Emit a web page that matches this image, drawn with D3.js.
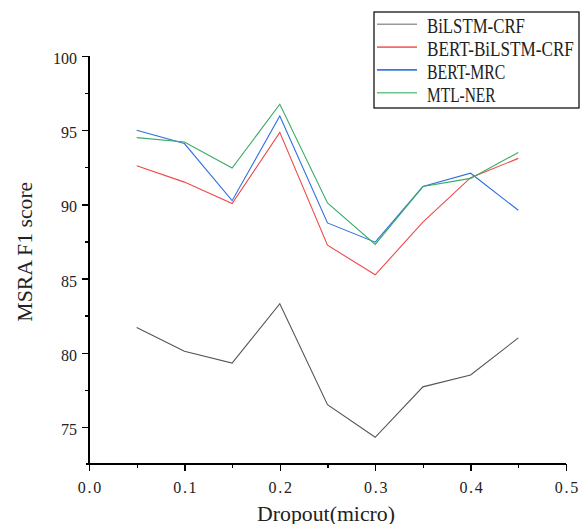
<!DOCTYPE html>
<html>
<head>
<meta charset="utf-8">
<script src="https://cdn.jsdelivr.net/npm/d3@7"></script>
<style>
  body { margin: 0; background: #fff; }
  text { font-family: "Liberation Serif", "DejaVu Serif", serif; fill: #222; }
  .axis path, .axis line { stroke: #000; stroke-width: 1.4; shape-rendering: crispEdges; }
</style>
</head>
<body>
<svg id="chart"></svg>
<script>
// data
const dropout = [0.05, 0.1, 0.15, 0.2, 0.25, 0.3, 0.35, 0.4, 0.45];
const seriesNames = ["BiLSTM-CRF", "BERT-BiLSTM-CRF", "BERT-MRC", "MTL-NER"];
const bilstmCrf = [81.7, 80.1, 79.3, 83.3, 76.5, 74.3, 77.7, 78.5, 81.0];
const bertBilstmCrf = [92.6, 91.5, 90.05, 94.85, 87.25, 85.25, 88.8, 91.8, 93.1];
const bertMrc = [95.0, 94.1, 90.25, 95.95, 88.75, 87.45, 91.2, 92.1, 89.6];
const mtlNer = [94.5, 94.2, 92.45, 96.75, 90.1, 87.3, 91.2, 91.75, 93.5];
const xTicks = [0, 0.1, 0.2, 0.3, 0.4, 0.5];
const xMinor = [0.05, 0.15, 0.25, 0.35, 0.45];
const yTicks = [75, 80, 85, 90, 95, 100];
const yMinor = [77.5, 82.5, 87.5, 92.5, 97.5];

const colors = ["#555555", "#f04848", "#2f6fe0", "#3aaa66"];
const legendColors = ["#999999", "#f46a6a", "#3a78e0", "#6cc48e"];

const width = 588, height = 524;
const margin = {top: 56, right: 22, bottom: 60, left: 89};
const plotW = width - margin.left - margin.right,
      plotH = height - margin.top - margin.bottom;

const svg = d3.select("#chart").attr("width", width).attr("height", height);
const g = svg.append("g").attr("transform", "translate(" + margin.left + "," + margin.top + ")");

const x = d3.scaleLinear().domain([0, 0.5]).range([0, plotW]);
const y = d3.scaleLinear().domain([72.5, 100]).range([plotH, 0]);

// fit a text to a given width (the original font is narrow and fixed width)
function squeeze(sel, px, py, target, rot) {
  sel.each(function() {
    const natural = this.getComputedTextLength();
    const s = target / natural;
    d3.select(this).attr("transform",
      "translate(" + px + "," + py + ")" + (rot ? " rotate(" + rot + ")" : "") + " scale(" + s + ",1)");
  });
}

// minor ticks first, no labels
g.append("g").attr("class", "axis")
  .attr("transform", "translate(0," + plotH + ")")
  .call(d3.axisBottom(x).tickValues(xMinor).tickSize(4).tickSizeOuter(0).tickFormat(""));
g.append("g").attr("class", "axis")
  .call(d3.axisLeft(y).tickValues(yMinor).tickSize(4).tickSizeOuter(0).tickFormat(""));

const xAxis = g.append("g").attr("class", "axis")
  .attr("transform", "translate(0," + plotH + ")")
  .call(d3.axisBottom(x).tickValues(xTicks).tickSize(7).tickSizeOuter(0).tickFormat(d3.format(".1f")));
xAxis.selectAll("text")
  .attr("y", 29).attr("dy", 0)
  .style("font-size", "16px")
  .attr("textLength", 23.4).attr("lengthAdjust", "spacing");

const yAxis = g.append("g").attr("class", "axis")
  .call(d3.axisLeft(y).tickValues(yTicks).tickSize(7).tickSizeOuter(0));
yAxis.selectAll("text")
  .attr("x", -12).attr("dy", 7.5)
  .style("font-size", "16px");
yAxis.select(".domain").attr("d", "M0," + plotH + "V0");
xAxis.select(".domain").attr("d", "M-3,0H" + plotW);

// lines
const allSeries = [bilstmCrf, bertBilstmCrf, bertMrc, mtlNer];
const line = d3.line()
  .x((d, i) => x(dropout[i]))
  .y(d => y(d));

g.selectAll(".series")
  .data(allSeries)
  .enter()
  .append("path")
  .attr("class", "series")
  .attr("d", d => line(d))
  .attr("fill", "none")
  .attr("stroke", (d, i) => colors[i])
  .attr("stroke-width", 1.1);

// axis titles
svg.append("text")
  .attr("text-anchor", "middle")
  .style("font-size", "20px")
  .text("Dropout(micro)")
  .call(squeeze, 326, 520.7, 138);

svg.append("text")
  .attr("text-anchor", "middle")
  .style("font-size", "20px")
  .text("MSRA F1 score")
  .call(squeeze, 31.7, 251.7, 140, -90);

// legend
const legend = svg.append("g").attr("transform", "translate(374,12)");
legend.append("rect")
  .attr("width", 205).attr("height", 96)
  .attr("fill", "#fff").attr("stroke", "#000").attr("stroke-width", 1.2);

const items = legend.selectAll(".item")
  .data(seriesNames)
  .enter()
  .append("g")
  .attr("transform", (d, i) => "translate(0," + (21.3 + i * 22.8) + ")");

items.append("line")
  .attr("x1", 3).attr("x2", 43)
  .attr("y1", -9).attr("y2", -9)
  .attr("stroke", (d, i) => legendColors[i])
  .attr("stroke-width", 1.6);

items.append("text")
  .style("font-size", "20px")
  .text(d => d)
  .each(function(d) {
    d3.select(this).call(squeeze, 53, 0, d.length * 9.8);
  });
</script>
</body>
</html>
